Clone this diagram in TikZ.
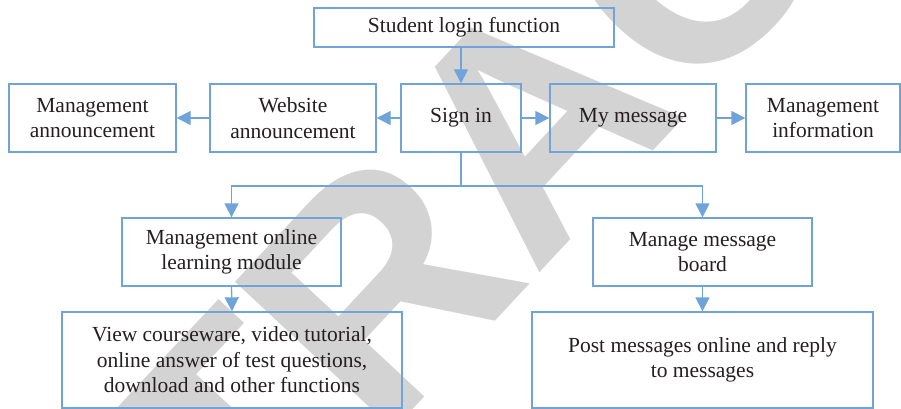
\documentclass[tikz,border=0pt]{standalone}
\usepackage{fontspec}
\setmainfont{Liberation Serif}
\newfontfamily\stampfont{Liberation Sans}
\usetikzlibrary{arrows.meta}
\definecolor{boxblue}{RGB}{112,163,217}
\definecolor{stampgray}{RGB}{211,211,211}
\definecolor{inkblack}{RGB}{35,31,32}

\begin{document}
\begin{tikzpicture}[x=1pt, y=1pt,
	block/.style={draw=boxblue, line width=1.3pt, text=inkblack, align=center, inner sep=0pt, font=\fontsize{21.5}{25.5}\selectfont},
	link/.style={draw=boxblue, line width=1.3pt, -{Triangle[length=14pt, width=14pt]}}]
	\useasboundingbox (0,0) rectangle (901,-409);
	\begin{scope}
		\clip (0,0) rectangle (901,-409);
		\node[text=stampgray, rotate=47, anchor=base west, inner sep=0pt, font=\stampfont\bfseries\fontsize{315}{315}\selectfont] (stamp) at (-50,-906) {RETRACTED};
	\end{scope}
	\node[block, minimum width=300pt, minimum height=39pt] (login) at (464,-27.5) {Student login function};
	\node[block, minimum width=120pt, minimum height=68pt] (signin) at (461,-118) {Sign in};
	\node[block, minimum width=166pt, minimum height=68pt] (webann) at (293,-118) {Website\\announcement};
	\node[block, minimum width=167pt, minimum height=68pt] (mgmtann) at (92.5,-118) {Management\\announcement};
	\node[block, minimum width=166pt, minimum height=68pt] (mymsg) at (633,-118) {My message};
	\node[block, minimum width=154pt, minimum height=68pt] (mgmtinfo) at (823,-118) {Management\\information};
	\node[block, minimum width=219pt, minimum height=68pt] (online) at (231.5,-252) {Management online\\learning module};
	\node[block, minimum width=219pt, minimum height=68pt] (board) at (702.5,-252) {Manage message\\board};
	\node[block, minimum width=340pt, minimum height=96pt] (view) at (232,-360) {View courseware, video tutorial,\\online answer of test questions,\\download and other functions};
	\node[block, minimum width=341pt, minimum height=96pt] (post) at (702.5,-360) {Post messages online and reply\\to messages};
	\coordinate (fork) at (461,-186);
	\draw[link] (signin.north |- login.south) -- (signin.north);
	\draw[link] (signin.west) -- (webann.east);
	\draw[link] (webann.west) -- (mgmtann.east);
	\draw[link] (signin.east) -- (mymsg.west);
	\draw[link] (mymsg.east) -- (mgmtinfo.west);
	\draw[boxblue, line width=1.3pt] (signin.south) -- (fork);
	\draw[link] (fork) -| (online.north);
	\draw[link] (fork) -| (board.north);
	\draw[link] (online.south) -- (view.north);
	\draw[link] (board.south) -- (post.north);
\end{tikzpicture}
\end{document}
